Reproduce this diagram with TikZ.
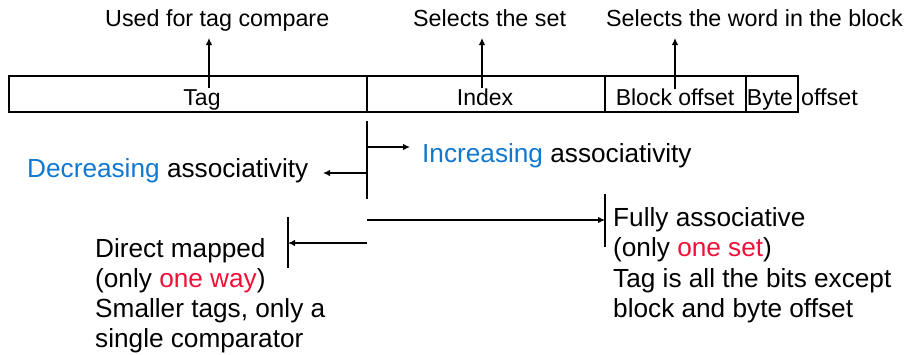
\documentclass[tikz,border=0pt]{standalone}
\usepackage{fontspec}
\setmainfont{Liberation Sans}
\usetikzlibrary{arrows.meta}
\definecolor{myblue}{RGB}{16,120,208}
\definecolor{myred}{RGB}{240,16,56}
\begin{document}
\begin{tikzpicture}[x=1pt,y=-1pt,
  ln/.style={line width=1.2pt,black},
  arr/.style={ln,-{Latex[length=7pt,width=6.5pt]}},
  big/.style={inner sep=0pt,anchor=base west,font=\fontsize{26.2}{30}\selectfont},
  small/.style={inner sep=0pt,anchor=base west,font=\fontsize{23.3}{27}\selectfont},
  boxlbl/.style={inner sep=0pt,anchor=base,font=\fontsize{23}{27}\selectfont}]
\useasboundingbox (0,0) rectangle (908,354);
% address fields
\draw[ln] (9,76) rectangle (798,112);
\draw[ln] (367,76) -- (367,112);
\draw[ln] (605,76) -- (605,112);
\draw[ln] (746,76) -- (746,112);
\node[boxlbl] (tag) at (202,105) {Tag};
\node[boxlbl] (index) at (485,105) {Index};
\node[boxlbl] (blk) at (675,105) {Block offset};
\node[boxlbl] (byte) at (770,105) {Byte};
\node[small] (off) at (801,105) {offset};
% top labels
\node[small] (l1) at (105,26) {Used for tag compare};
\node[small] (l2) at (413,26) {Selects the set};
\node[small] (l3) at (606,26) {Selects the word in the block};
\coordinate (a1s) at (209,88); \coordinate (a1e) at (209,38);
\coordinate (a2s) at (482,88); \coordinate (a2e) at (482,38);
\coordinate (a3s) at (675,89); \coordinate (a3e) at (675,38);
\draw[arr] (a1s) -- (a1e);
\draw[arr] (a2s) -- (a2e);
\draw[arr] (a3s) -- (a3e);
% associativity arrows
\coordinate (vt) at (367,121); \coordinate (vb) at (367,199);
\draw[ln] (vt) -- (vb);
\coordinate (ir) at (367,147); \coordinate (ire) at (410,147);
\coordinate (dl) at (367,173); \coordinate (dle) at (323,173);
\draw[arr] (ir) -- (ire);
\draw[arr] (dl) -- (dle);
\node[big] (inc) at (422,162) {\textcolor{myblue}{Increasing} associativity};
\node[big] (dec) at (27,177) {\textcolor{myblue}{Decreasing} associativity};
% fully associative
\coordinate (fs) at (367,220); \coordinate (fe) at (605,220);
\coordinate (fbt) at (605,194); \coordinate (fbb) at (605,247);
\draw[arr] (fs) -- (fe);
\draw[ln] (fbt) -- (fbb);
\node[big] (fa1) at (613,226) {Fully associative};
\node[big] (fa2) at (613,256.5) {(only \textcolor{myred}{one set})};
\node[big] (fa3) at (613,287) {Tag is all the bits except};
\node[big] (fa4) at (613,317) {block and byte offset};
% direct mapped
\coordinate (ds) at (367,243); \coordinate (de) at (288,243);
\coordinate (dbt) at (288,217); \coordinate (dbb) at (288,268);
\draw[arr] (ds) -- (de);
\draw[ln] (dbt) -- (dbb);
\node[big] (dm1) at (95,257) {Direct mapped};
\node[big] (dm2) at (95,287) {(only \textcolor{myred}{one way})};
\node[big] (dm3) at (95,317) {Smaller tags, only a};
\node[big] (dm4) at (95,347) {single comparator};
\end{tikzpicture}
\end{document}
